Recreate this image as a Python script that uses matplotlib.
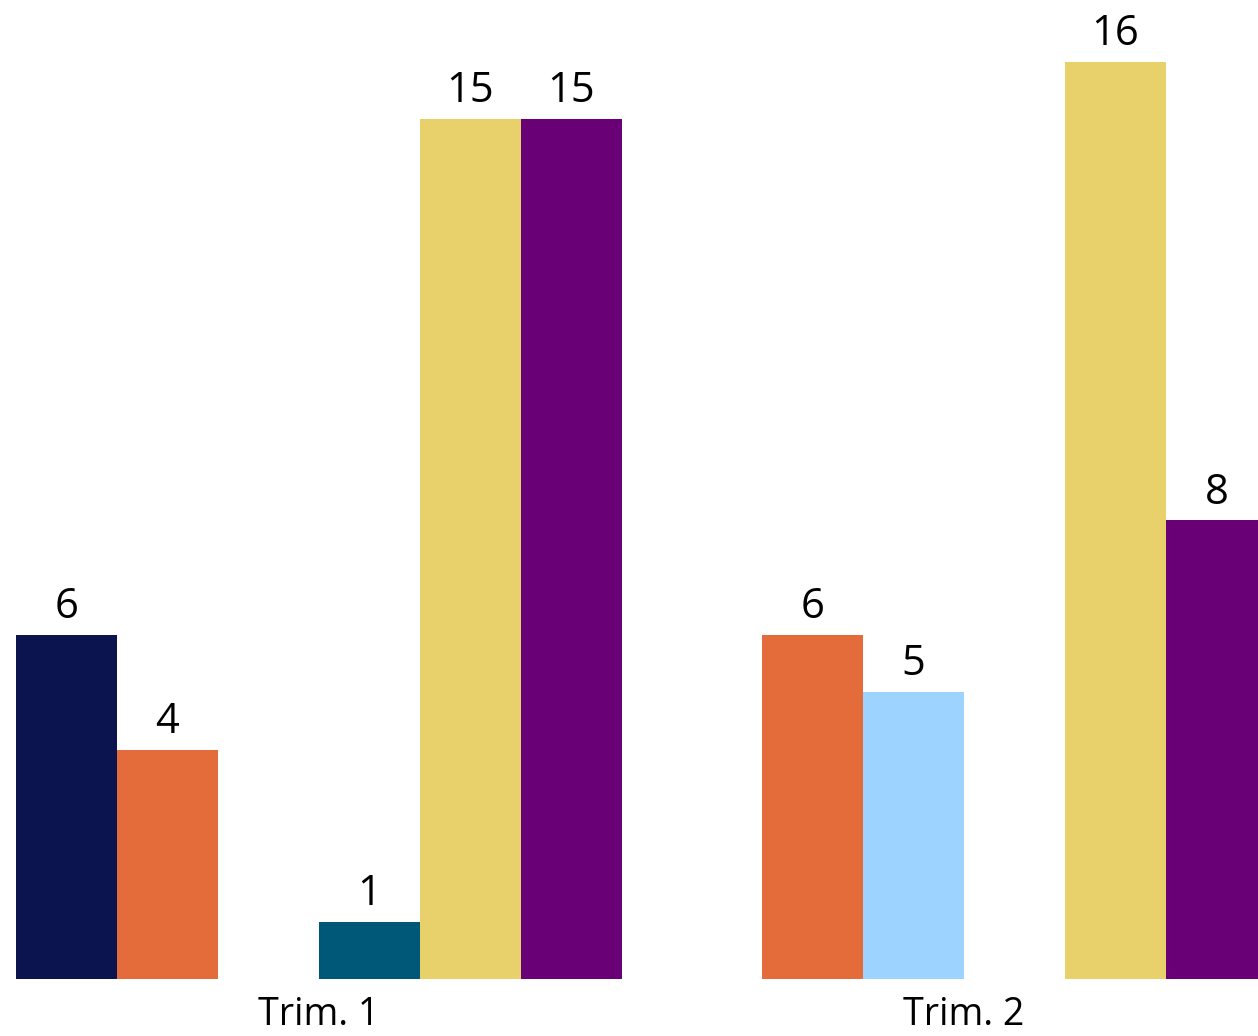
import matplotlib.pyplot as plt
import numpy as np

plt.rcParams["font.family"] = ["Open Sans", "DejaVu Sans"]

categories = ["Trim. 1", "Trim. 2"]
series_colors = ["#0C1450", "#E46C3A", "#9DD3FF", "#005878", "#E8D16A", "#690075"]
# one row per series, one column per category (0 = no bar)
values = [
    [6, 0],
    [4, 6],
    [0, 5],
    [1, 0],
    [15, 16],
    [15, 8],
]

fig = plt.figure(figsize=(12.58, 10.36), dpi=100)
ax = fig.add_axes([0, 0.055, 1, 0.945])

group_gap = 6.386
centers = np.arange(len(categories)) * group_gap
n = len(values)
for i, (vals, color) in enumerate(zip(values, series_colors)):
    xs = centers + (i - (n - 1) / 2)
    bars = ax.bar(xs, vals, width=1.0, color=color, linewidth=0)
    for bar, v in zip(bars, vals):
        if v:
            ax.annotate(str(v), (bar.get_x() + bar.get_width() / 2, v),
                        xytext=(0, 5), textcoords="offset points",
                        ha="center", va="bottom", fontsize=30)

ax.set_xlim(-3.158, 9.297)
ax.set_ylim(0, 17.08)
ax.set_xticks(centers)
ax.set_xticklabels(categories, fontsize=27)
ax.tick_params(axis="x", length=0, pad=12)
ax.set_yticks([])
for s in ax.spines.values():
    s.set_visible(False)

fig.savefig("out.png", dpi=100)
